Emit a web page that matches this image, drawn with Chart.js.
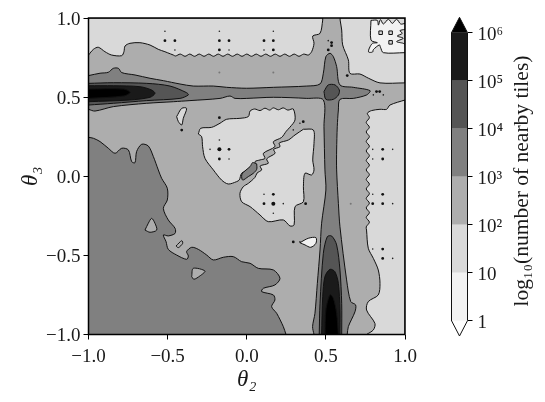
<!DOCTYPE html>
<html>
<head>
<meta charset="utf-8">
<script src="https://cdn.jsdelivr.net/npm/chart.js@4/dist/chart.umd.min.js"></script>
<style>
    body { margin: 0; background: #fff; }
    canvas { position: absolute; top: 0; }
</style>
</head>
<body>
<canvas id="myChart" width="545" height="402" style="left:0"></canvas>
<canvas id="myBar" width="105" height="402" style="left:440px"></canvas>
<script>
// contour outlines, [theta2, theta3]
const frameCorners = [[-1,-1],[1,-1],[1,1],[-1,1]];

const lightTop = [[-1,1],[.48,1],[.48,.987],[.463,.903],[.417,.886],[.425,.84],[.41,.787],[.389,.766],
    [.36,.772],[.33,.758],[.30,.772],[.27,.758],[.24,.772],[.21,.758],[.18,.772],[.15,.758],[.12,.772],[.09,.758],
    [.06,.772],[.03,.758],[0,.772],[-.03,.758],[-.06,.772],[-.09,.758],[-.12,.772],[-.15,.758],[-.18,.772],[-.21,.758],
    [-.24,.772],[-.27,.758],[-.30,.772],[-.33,.758],[-.36,.772],[-.39,.758],[-.42,.772],[-.45,.76],
    [-.464,.766],[-.502,.781],[-.517,.787],[-.559,.802],[-.611,.829],[-.675,.844],[-.738,.840],[-.769,.823],
    [-.776,.787],[-.790,.762],[-.854,.766],[-.896,.787],[-.938,.815],[-.969,.802],[-1,.766]];
const lightTopRight = [[.59,1],[1,1],[1,.59],[.842,.59],[.768,.62],[.715,.646],[.652,.65],[.642,.735],[.606,.83],[.6,.924],[.59,.987]];
const lightRight = [[1,.482],[.905,.45],[.884,.423],[.842,.423],[.789,.415],[.762,.398],
    [.775,.37],[.755,.34],[.775,.31],[.755,.28],[.775,.25],[.755,.22],[.775,.19],[.755,.16],[.775,.13],[.755,.10],
    [.775,.07],[.755,.04],[.775,.01],[.755,-.02],[.775,-.05],[.755,-.08],[.775,-.11],[.755,-.14],[.775,-.17],[.755,-.20],
    [.775,-.23],[.755,-.26],[.775,-.29],[.755,-.32],[.757,-.34],[.768,-.455],[.8,-.519],[.831,-.592],[.842,-.677],
    [.831,-.75],[.768,-.792],[.757,-.845],[.81,-.93],[.8,-.971],[.757,-1],[1,-1]];
const lightUpperPatch = [[-.306,.267],[-.291,.303],[-.222,.309],[-.169,.335],[-.127,.36],[-.043,.366],[.01,.377],[.021,.412],
    [.05,.425],[.084,.415],[.115,.43],[.145,.418],[.168,.432],[.2,.42],[.23,.432],[.26,.418],[.294,.425],[.305,.356],
    [.273,.31],[.25,.285],[.22,.245],[.168,.218],[.178,.187],[.105,.145],[.115,.113],[.084,.103],[.052,.092],[.058,.06],[.01,.04],
    [-.032,.019],[-.047,-.023],[-.064,-.034],[-.117,-.049],[-.159,-.024],[-.211,.04],[-.264,.113],[-.279,.187],[-.285,.25]];
const lightLowerPatch = [[.358,.297],[.421,.292],[.425,.208],[.417,.103],[.425,.04],[.41,.008],[.368,.019],[.358,-.066],[.358,-.161],
    [.305,-.192],[.299,-.308],[.273,-.314],[.231,-.276],[.136,-.287],[.084,-.245],[.021,-.192],[-.032,-.161],[-.043,-.108],[-.022,-.066],
    [.01,-.045],[.052,-.007],[.065,.02],[.094,.04],[.085,.065],[.136,.082],[.126,.11],[.179,.145],[.17,.17],[.21,.187],[.205,.21],[.263,.229],[.305,.261]];
const lightDrop = [[-.443,.377],[-.411,.429],[-.38,.429],[-.401,.366],[-.411,.324],[-.432,.345]];

const paleCorner = [[.785,.985],[.825,.985],[.832,.955],[.845,.99],[.863,.962],[.895,.992],[.920,.966],[.947,.992],[.973,.962],[1,.966],
    [1,.928],[.968,.920],[.983,.903],[.951,.886],[.989,.872],[.947,.851],[.989,.84],[1,.832],[1,.781],[.863,.781],[.845,.815],[.838,.83],
    [.80,.80],[.795,.785],[.77,.785],[.775,.81],[.795,.84],[.825,.844],[.785,.86]];
const paleBlob = [[.336,-.42],[.389,-.392],[.437,-.388],[.437,-.424],[.404,-.449],[.368,-.434]];

const midLowerLeft = [[-1,.246],[-.969,.24],[-.927,.219],[-.875,.177],[-.832,.145],[-.790,.177],[-.748,.166],[-.727,.092],[-.706,.086],
    [-.696,.156],[-.664,.202],[-.622,.191],[-.590,.124],[-.559,.04],[-.538,-.013],[-.502,-.076],[-.502,-.15],[-.527,-.203],[-.496,-.276],
    [-.453,-.329],[-.453,-.361],[-.496,-.377],[-.527,-.371],[-.510,-.413],[-.496,-.462],[-.443,-.498],[-.380,-.525],[-.369,-.504],[-.380,-.476],
    [-.348,-.449],[-.306,-.462],[-.253,-.498],[-.211,-.529],[-.148,-.512],[-.085,-.508],[-.032,-.540],[.021,-.55],[.073,-.582],[.168,-.592],
    [.21,-.645],[.178,-.687],[.105,-.708],[.094,-.729],[.168,-.75],[.178,-.782],[.157,-.824],[.189,-.866],[.231,-.95],[.248,-1],[-1,-1]];
const islandA = [[-.643,-.34],[-.622,-.297],[-.601,-.266],[-.58,-.297],[-.569,-.34],[-.611,-.354]];
const islandB = [[-.348,-.634],[-.338,-.582],[-.264,-.599],[-.296,-.63],[-.334,-.651]];
const islandC = [[-.447,-.441],[-.411,-.407],[-.405,-.424],[-.432,-.451]];
const midCross = [[-1,.636],[-.927,.651],[-.875,.657],[-.843,.682],[-.811,.682],[-.79,.655],[-.706,.64],[-.611,.619],[-.527,.604],[-.422,.583],
    [-.338,.57],[-.211,.57],[-.127,.562],[-.001,.556],[.168,.562],[.379,.57],[.463,.583],[.484,.651],[.5,.756],[.526,.777],[.547,.756],[.568,.693],
    [.589,.577],[.673,.562],[.779,.541],[.758,.514],[.673,.492],[.589,.486],[.579,.419],[.572,.313],[.568,.166],[.568,.04],[.579,-.171],[.589,-.319],
    [.631,-.655],[.657,-.792],[.688,-.813],[.684,-.856],[.642,-.95],[.635,-1],[.425,-1],[.416,-.95],[.431,-.866],[.446,-.677],[.463,-.466],[.473,-.297],
    [.5,-.087],[.494,.04],[.488,.313],[.484,.482],[.379,.492],[.168,.499],[0,.492],[-.074,.492],[-.106,.507],[-.169,.492],[-.359,.478],[-.464,.471],
    [-.632,.461],[-.843,.44],[-.959,.412],[-1,.423]];
const midStrip = [[.063,.078],[.037,.086],[.021,.061],[-.017,.029],[-.032,.008],[-.026,-.024],[.01,-.002],[.042,.019],[.063,.044]];

const darkWest = [[-1,.587],[-.843,.591],[-.632,.587],[-.485,.57],[-.380,.528],[-.369,.514],[-.422,.492],[-.632,.478],[-.843,.461],[-1,.45]];
const darkCentre = [[.488,.535],[.515,.577],[.558,.577],[.585,.545],[.579,.513],[.547,.486],[.5,.486]];
const darkSouth = [[.458,-1],[.463,-.803],[.484,-.487],[.509,-.382],[.537,-.378],[.568,-.434],[.589,-.592],[.6,-.803],[.6,-1]];
const darkerWest = [[-1,.572],[-.843,.572],[-.675,.566],[-.601,.545],[-.58,.524],[-.611,.499],[-.738,.482],[-1,.471]];
const darkerSouth = [[.473,-1],[.48,-.761],[.494,-.634],[.526,-.588],[.557,-.603],[.579,-.677],[.589,-.845],[.589,-1]];
const blackWest = [[-1,.551],[-.78,.551],[-.738,.53],[-.78,.507],[-1,.492]];
const blackSouth = [[.494,-1],[.5,-.845],[.526,-.75],[.547,-.771],[.568,-.866],[.579,-1]];

// tiny closed contours
const dotsSmall = [[-.517,.916],[-.454,.798],[-.173,.916],[-.112,.798],[-.232,.17],[-.173,.229],[-.112,.109],[.168,.916],[.109,.798],[.515,.857],
    [.336,.335],[.294,.293],[.8,.514],[.863,.514],[.796,.17],[.922,.17],[.796,.109],[.109,-.114],[.231,-.173],[.168,-.234],[.796,-.114],[.922,-.173],
    [.796,-.46],[.922,-.519],[.336,-.415]];
const dotsMedium = [[-.517,.857],[-.454,.857],[-.173,.857],[-.112,.857],[-.173,.798],[-.173,.37],[-.112,.17],[-.173,.109],[-.411,.292],[.109,.857],
    [.168,.857],[.168,.798],[.515,.798],[.635,.636],[.357,.345],[.859,.17],[.859,.109],[.168,-.114],[.109,-.173],[.372,-.173],[.859,-.114],[.796,-.173],
    [.859,-.46],[.859,-.519],[.294,-.415],[.859,-.173],[.536,.845],[.536,.825],[.82,.535],[.84,.535]];
const dotsLarge = [[-.173,.17],[.168,-.173]];
const dotsFaint = [[-.173,.655],[.168,.655],[.657,-.173]];
const squares = [[.846,.907],[.909,.907],[.909,.846]];

const xTicks = [-1, -0.5, 0, 0.5, 1];
const yTicks = [-1, -0.5, 0, 0.5, 1];
const barLevels = [0, 1, 2, 3, 4, 5, 6];
const barLabels = ['1', '10', '10²', '10³', '10⁴', '10⁵', '10⁶'];
const barColors = ['#f2f2f2', '#d9d9d9', '#adadad', '#808080', '#555555', '#1a1a1a'];

const fontName = '"Liberation Serif", serif';
const ink = '#111';

function xy(points) {
    return points.map((p) => ({ x: p[0], y: p[1] }));
}

// points on the frame are doubled so the curve keeps a sharp corner there
function onFrame(p) {
    return Math.abs(p[0]) === 1 || Math.abs(p[1]) === 1;
}

function poly(points, color, noLine) {
    const closed = points.concat([points[0]]);
    const data = xy(noLine ? closed : closed.flatMap((p) => onFrame(p) ? [p, p] : [p]));
    return {
        data: data,
        showLine: true,
        fill: 'shape',
        tension: noLine ? 0 : 0.3,
        backgroundColor: color,
        borderColor: noLine ? color : ink,
        borderWidth: noLine ? 0 : 1,
        pointRadius: 0
    };
}

function dots(points, radius, color, style) {
    return {
        data: xy(points),
        showLine: false,
        pointStyle: style || 'circle',
        pointRadius: radius,
        backgroundColor: color,
        borderColor: style ? ink : color,
        borderWidth: style ? 1 : 0
    };
}

function fmt(v) {
    return v.toFixed(1).replace('-', '\u2212');
}

// painted back to front, chart.js draws the first dataset on top so it gets reversed
const layers = [
    poly(frameCorners, '#adadad', true),
    poly(lightTop, '#d9d9d9'),
    poly(lightTopRight, '#d9d9d9'),
    poly(lightRight, '#d9d9d9'),
    poly(lightUpperPatch, '#d9d9d9'),
    poly(lightLowerPatch, '#d9d9d9'),
    poly(lightDrop, '#d9d9d9'),
    poly(paleCorner, '#f2f2f2'),
    poly(paleBlob, '#f2f2f2'),
    poly(midLowerLeft, '#808080'),
    poly(islandA, '#adadad'),
    poly(islandB, '#adadad'),
    poly(islandC, '#adadad'),
    poly(midCross, '#808080'),
    poly(midStrip, '#808080'),
    poly(darkWest, '#555555'),
    poly(darkCentre, '#555555'),
    poly(darkSouth, '#555555'),
    poly(darkerWest, '#1a1a1a'),
    poly(darkerSouth, '#1a1a1a'),
    poly(blackWest, '#000000'),
    poly(blackSouth, '#000000'),
    dots(dotsFaint, 1, '#777'),
    dots(dotsSmall, 0.8, '#222'),
    dots(dotsMedium, 1.4, '#111'),
    dots(dotsLarge, 2, '#111'),
    dots(squares, 2.5, '#d9d9d9', 'rect')
].reverse();

const framePlugin = {
    id: 'frame',
    afterDatasetsDraw(chart) {
        const a = chart.chartArea;
        chart.ctx.save();
        chart.ctx.strokeStyle = '#000';
        chart.ctx.lineWidth = 1.5;
        chart.ctx.strokeRect(a.left, a.top, a.right - a.left, a.bottom - a.top);
        chart.ctx.restore();
    }
};

function axis(position, ticks, title, fit, tickOpts) {
    return {
        type: 'linear',
        position: position,
        min: -1,
        max: 1,
        afterBuildTicks(scale) { scale.ticks = ticks.map((v) => ({ value: v })); },
        afterFit: fit,
        border: { display: false },
        grid: { drawOnChartArea: false, drawTicks: true, tickLength: 5, color: '#000', lineWidth: 1 },
        ticks: Object.assign({
            autoSkip: false,
            maxRotation: 0,
            color: '#1a1a1a',
            font: { family: fontName, size: 19 },
            callback: (v) => fmt(v)
        }, tickOpts),
        title: {
            display: true,
            text: title,
            color: '#1a1a1a',
            padding: 0,
            font: { family: fontName, size: 23, style: 'italic' }
        }
    };
}

new Chart(document.getElementById('myChart'), {
    type: 'scatter',
    data: { datasets: layers },
    options: {
        responsive: false,
        animation: false,
        layout: { padding: { left: 17, right: 140, top: 18, bottom: 8 } },
        plugins: { legend: { display: false }, tooltip: { enabled: false } },
        scales: {
            x: axis('bottom', xTicks, 'θ₂', (s) => { s.height = 59.5; }, { padding: 6 }),
            y: axis('left', yTicks, 'θ₃', (s) => { s.width = 71.5; }, { padding: 3, labelOffset: 2 })
        }
    },
    plugins: [framePlugin]
});

// colorbar, one small polygon per level
const barSets = barColors.map((c, i) => poly([[0, barLevels[i]], [1, barLevels[i]], [1, barLevels[i + 1]], [0, barLevels[i + 1]]], c, true));
const tipDown = [[0, 0], [0.5, -0.32], [1, 0]];
const tipUp = [[0, 6], [0.5, 6.32], [1, 6]];
const barOutline = [[0, 0], [0.5, -0.32], [1, 0], [1, 6], [0.5, 6.32], [0, 6]];

const barTitlePlugin = {
    id: 'barTitle',
    afterDraw(chart) {
        const ctx = chart.ctx;
        ctx.save();
        ctx.translate(82, 181);
        ctx.rotate(-Math.PI / 2);
        ctx.fillStyle = '#1a1a1a';
        ctx.font = '21.5px ' + fontName;
        ctx.textAlign = 'center';
        ctx.textBaseline = 'middle';
        ctx.fillText('log₁₀(number of nearby tiles)', 0, 0);
        ctx.restore();
    }
};

const outlineSet = poly(barOutline, 'rgba(0,0,0,0)');
outlineSet.fill = false;
outlineSet.clip = false;
outlineSet.tension = 0;
const tipSets = [poly(tipDown, '#ffffff', true), poly(tipUp, '#000000', true)];

new Chart(document.getElementById('myBar'), {
    type: 'scatter',
    data: { datasets: [outlineSet].concat(tipSets, barSets) },
    options: {
        responsive: false,
        animation: false,
        layout: { padding: { left: 11.5, right: 0, top: 17.3, bottom: 66 } },
        plugins: { legend: { display: false }, tooltip: { enabled: false } },
        scales: {
            x: { type: 'linear', display: false, min: 0, max: 1 },
            y: {
                type: 'linear',
                position: 'right',
                min: -0.32,
                max: 6.32,
                afterBuildTicks(scale) { scale.ticks = barLevels.map((v) => ({ value: v })); },
                afterFit(s) { s.width = 77.5; },
                border: { display: false },
                grid: { drawOnChartArea: false, drawTicks: true, tickLength: 5, color: '#000', lineWidth: 1 },
                ticks: {
                    autoSkip: false,
                    padding: 5,
                    labelOffset: 2,
                    color: '#1a1a1a',
                    font: { family: fontName, size: 19 },
                    callback: (v) => barLabels[barLevels.indexOf(v)]
                }
            }
        }
    },
    plugins: [barTitlePlugin]
});
</script>
</body>
</html>
